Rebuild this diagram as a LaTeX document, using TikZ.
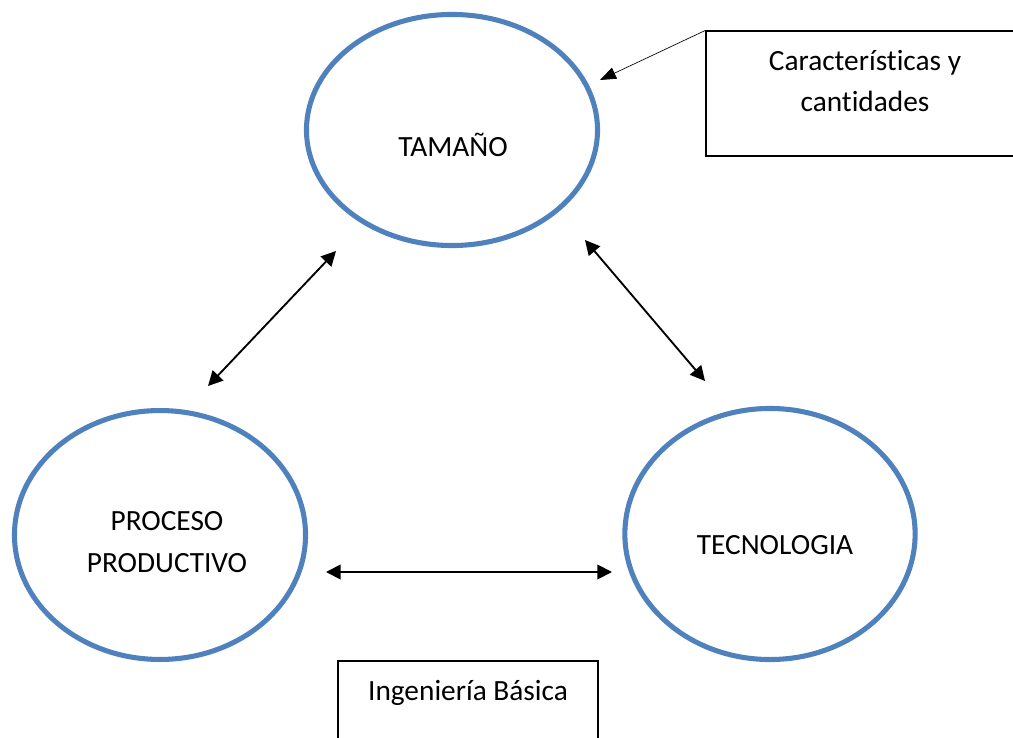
\documentclass[tikz,border=0pt]{standalone}
\usepackage{fontspec}
\setmainfont[Ligatures=NoCommon]{Carlito}
\usetikzlibrary{arrows.meta,shapes.geometric}
\definecolor{ringblue}{RGB}{79,129,189}

\begin{document}
\begin{tikzpicture}[x=0.75pt,y=0.75pt,yscale=-1,xscale=1,
  ring/.style={draw=ringblue,line width=3.8pt,ellipse,inner sep=0pt},
  tagbox/.style={draw,line width=0.9pt,rectangle,inner sep=0pt},
  link/.style={line width=1.4pt,{Triangle[length=11pt,width=11pt]}-{Triangle[length=11pt,width=11pt]}},
  pointer/.style={line width=0.5pt,-{Triangle[length=12pt,width=9pt]}},
  txt/.style={font=\fontsize{22}{31}\selectfont,align=center,inner sep=0pt}]
\useasboundingbox (0,0) rectangle (1013,738);

%Shape: Ellipse
\node[ring,minimum width=218.3pt,minimum height=173.3pt] (tam) at (452,130) {};
%Shape: Ellipse
\node[ring,minimum width=218.3pt,minimum height=186.7pt] (pro) at (160,535) {};
%Shape: Ellipse
\node[ring,minimum width=217.7pt,minimum height=188.3pt] (tec) at (770,534) {};

%Shape: Rectangle
\node[tagbox,minimum width=238.5pt,minimum height=93.75pt] (carbox) at (865,93.5) {};
%Shape: Rectangle
\node[tagbox,minimum width=195pt,minimum height=73.5pt] (ingbox) at (468,710) {};

% Text Node
\node[txt] (tamtxt) at (453,145) {TAMAÑO};
\node[txt] (protxt) at (167,542) {PROCESO\\PRODUCTIVO};
\node[txt] (tectxt) at (775,545) {TECNOLOGIA};
\node[txt] (cartxt) at (865,81) {Características y\\cantidades};
\node[txt] (ingtxt) at (468,693) {Ingeniería Básica};

%Straight Lines
\coordinate (p1) at (208,386);
\coordinate (t1) at (336,251);
\coordinate (t2) at (585,240);
\coordinate (c2) at (705,381);
\coordinate (p3) at (326,572);
\coordinate (c3) at (612,572);
\coordinate (t4) at (600,80);
\draw[link] (p1) -- (t1);
\draw[link] (t2) -- (c2);
\draw[link] (p3) -- (c3);
\draw[pointer] (carbox.north west) -- (t4);

\end{tikzpicture}
\end{document}
